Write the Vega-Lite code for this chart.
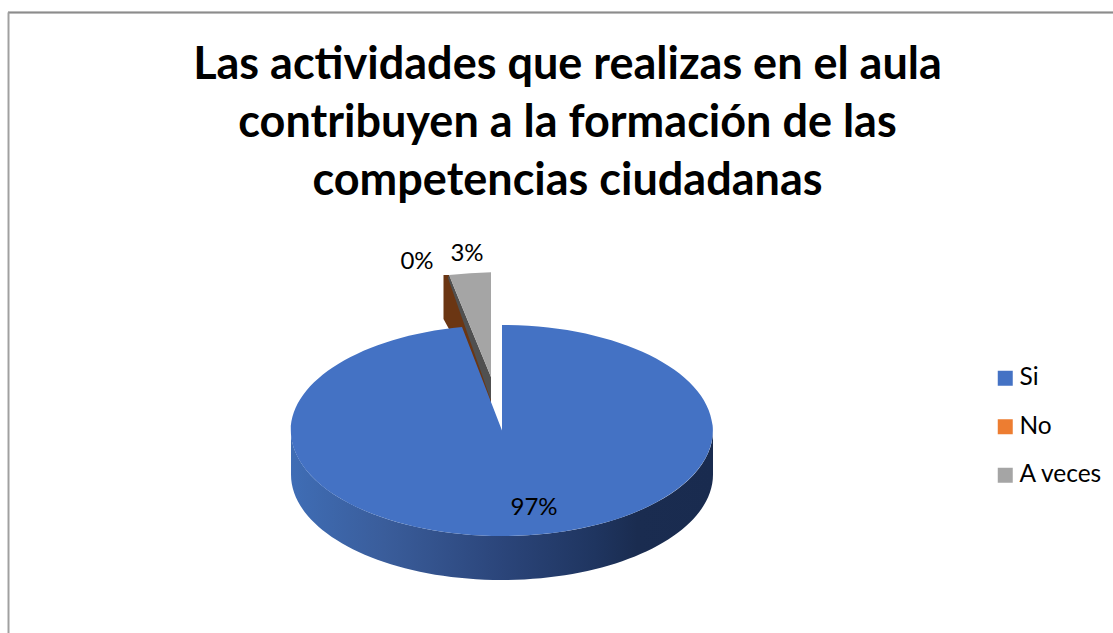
{
"$schema":"https://vega.github.io/schema/vega-lite/v6.json",
"width":1113,"height":633,"padding":0,"autosize":{"type":"none"},
"background":"white",
"view":{"stroke":null},
"config":{"font":"Lato"},
"title":{"text":["Las actividades que realizas en el aula","contribuyen a la formación de las","competencias ciudadanas"],"font":"Lato","fontSize":45,"fontWeight":"bold","color":"#000000","lineHeight":58,"anchor":"middle","dx":11,"offset":-204,"baseline":"top"},
"data":{"values":[{"category":"Si","value":97,"label":"97%"},{"category":"No","value":0,"label":"0%"},{"category":"A veces","value":3,"label":"3%"}]},
"resolve":{"scale":{"x":"shared","y":"shared"}},
"encoding":{},
"layer":[
{"mark":{"type":"rule","stroke":"#8c8c8c","strokeWidth":1.4},"encoding":{"x":{"datum":8,"scale":{"domain":[0,1113],"nice":false,"zero":false},"axis":null},"x2":{"datum":1113},"y":{"datum":12.5,"scale":{"domain":[0,633],"reverse":true,"nice":false,"zero":false},"axis":null}}},
{"mark":{"type":"rule","stroke":"#a0a0a0","strokeWidth":1.4},"encoding":{"x":{"datum":8.5},"y":{"datum":12.5},"y2":{"datum":633}}},
{"transform":[{"filter":"datum.category==='Si'"}],
 "mark":{"type":"point","filled":true,"opacity":1,"size":4,"shape":"M-211,0 A211,105.5 0 0 0 211,0 L211,44 A211,105.5 0 0 1 -211,44 Z","fill":{"gradient":"linear","x1":0,"y1":0,"x2":1,"y2":0,"stops":[{"offset":0,"color":"#3f6db5"},{"offset":0.22,"color":"#3a5d9b"},{"offset":0.5,"color":"#2b457a"},{"offset":0.72,"color":"#1f3560"},{"offset":0.82,"color":"#1a2c50"},{"offset":1,"color":"#192b4f"}]}},
 "encoding":{"x":{"datum":502},"y":{"datum":430.5}}},
{"transform":[{"filter":"datum.category==='No'"}],
 "mark":{"type":"point","filled":true,"opacity":1,"size":4,"shape":"M-58.5,-155.5 L-58.5,-111.5 L-53,-101.5 L-11,-10 L-11,-40 L-53,-155.5 Z","fill":"#6b3613"},
 "encoding":{"x":{"datum":502},"y":{"datum":430.5}}},
{"transform":[{"filter":"datum.category==='A veces'"}],
 "mark":{"type":"point","filled":true,"opacity":1,"size":4,"shape":"M-53,-155.5 L-11,-53.5 L-11,-30 L-54,-152.5 Z","fill":"#505050"},
 "encoding":{"x":{"datum":502},"y":{"datum":430.5}}},
{"transform":[{"filter":"datum.category==='A veces'"}],
 "mark":{"type":"point","filled":true,"opacity":1,"size":4,"shape":"M-11,-53.5 L-53,-155.5 Q-32,-157.8 -11,-158.2 Z"},
 "encoding":{"x":{"datum":502},"y":{"datum":430.5},
  "color":{"field":"category","type":"nominal","scale":{"domain":["Si","No","A veces"],"range":["#4472c4","#ed7d31","#a5a5a5"]},"legend":{"title":null,"orient":"none","legendX":993,"legendY":366,"symbolType":"square","symbolSize":225,"symbolStrokeWidth":0,"labelFont":"Lato","labelFontSize":24.5,"labelColor":"#000000","labelOffset":2,"rowPadding":23.5,"labelLimit":200}}}},
{"transform":[{"filter":"datum.category==='Si'"}],
 "mark":{"type":"point","filled":true,"opacity":1,"size":4,"shape":"M0,0 L0,-105.5 A211,105.5 0 1 1 -40,-103.6 Z"},
 "encoding":{"x":{"datum":502},"y":{"datum":430.5},"color":{"field":"category","type":"nominal"}}},
{"transform":[{"filter":"datum.category==='Si'"}],"mark":{"type":"text","font":"Lato","fontSize":24,"color":"#000000"},"encoding":{"x":{"datum":534},"y":{"datum":508},"text":{"field":"label"}}},
{"transform":[{"filter":"datum.category==='No'"}],"mark":{"type":"text","font":"Lato","fontSize":24,"color":"#000000"},"encoding":{"x":{"datum":417},"y":{"datum":262},"text":{"field":"label"}}},
{"transform":[{"filter":"datum.category==='A veces'"}],"mark":{"type":"text","font":"Lato","fontSize":24,"color":"#000000"},"encoding":{"x":{"datum":467},"y":{"datum":254},"text":{"field":"label"}}}
]
}
